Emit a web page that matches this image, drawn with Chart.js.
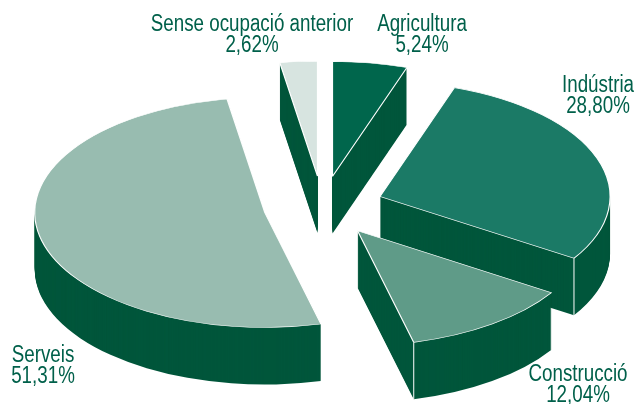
<!DOCTYPE html>
<html lang="ca">
<head>
<meta charset="utf-8">
<title>Sectors</title>
<script src="https://cdn.jsdelivr.net/npm/chart.js@4"></script>
<style>
  html, body { margin: 0; padding: 0; background: #fff; }
  #caixa { width: 638px; height: 404px; }
</style>
</head>
<body>
<div id="caixa"><canvas id="grafic"></canvas></div>
<script>
// Dades
const categories = ['Agricultura', 'Indústria', 'Construcció', 'Serveis', 'Sense ocupació anterior'];
const percentatges = [5.24, 28.80, 12.04, 51.31, 2.62];
const colors = ['#00664c', '#1b7a66', '#5f9b88', '#98bcb0', '#d7e4e0'];

// Aspecte del pastís 3D
const colorLateral = '#00563b';
const centreX = 322.5;
const centreY = 206.5;
const aixafat = 0.5;     // proporció vertical de l'el·lipse
const separacio = [61, 61, 60, 59, 61];    // distància de cada porció al centre
const gruix = 57;

// On va cada etiqueta: [x, y de la primera línia]
const posEtiquetes = [[422, 31], [598, 92], [578, 381], [43, 362], [252, 31]];
const fontEtiquetes = '23px "Liberation Sans", sans-serif';
const estretText = 0.816; // la lletra original és condensada

const formatarPct = (valor) => valor.toFixed(2).replace('.', ',') + '%';

// Col·loca el context de manera que la porció quedi aixafada i separada
function aplicarTransform(ctx, arc, sep, dy) {
    const mig = (arc.startAngle + arc.endAngle) / 2;
    ctx.translate(centreX, centreY + dy);
    ctx.scale(1, aixafat);
    ctx.translate(Math.cos(mig) * sep, Math.sin(mig) * sep);
    ctx.translate(-arc.x, -arc.y);
}

const pastis3d = {
    id: 'pastis3d',
    beforeDatasetsDraw(chart) {
        const ctx = chart.ctx;
        const arcs = chart.getDatasetMeta(0).data.map((arc, i) => ({ arc, sep: separacio[i] }));

        // de darrere cap endavant
        const ordre = (p) => Math.sin((p.arc.startAngle + p.arc.endAngle) / 2);
        arcs.sort((a, b) => ordre(a) - ordre(b));

        arcs.forEach(({ arc, sep }) => {
            const original = arc.options;

            // cos lateral: la mateixa porció repetida cap avall
            arc.options = Object.create(original, {
                backgroundColor: { value: colorLateral },
                borderWidth: { value: 0 }
            });
            for (let dy = gruix; dy > 0; dy--) {
                ctx.save();
                aplicarTransform(ctx, arc, sep, dy);
                arc.draw(ctx);
                ctx.restore();
            }
            arc.options = original;

            // aresta vertical on acaba la porció, si queda a la part de davant
            const mig = (arc.startAngle + arc.endAngle) / 2;
            const xFi = centreX + Math.cos(mig) * sep + Math.cos(arc.endAngle) * arc.outerRadius;
            const yFi = centreY + (Math.sin(mig) * sep + Math.sin(arc.endAngle) * arc.outerRadius) * aixafat;
            if (Math.sin(arc.endAngle) > 0.2 && Math.cos(arc.endAngle) > 0) {
                ctx.save();
                ctx.strokeStyle = '#fff';
                ctx.lineWidth = 1;
                ctx.beginPath();
                ctx.moveTo(xFi, yFi);
                ctx.lineTo(xFi, yFi + gruix);
                ctx.stroke();
                ctx.restore();
            }

            // cara de dalt
            ctx.save();
            aplicarTransform(ctx, arc, sep, 0);
            arc.draw(ctx);
            ctx.restore();
        });

        // Etiquetes
        ctx.save();
        ctx.font = fontEtiquetes;
        ctx.fillStyle = '#00604a';
        ctx.textAlign = 'center';
        categories.forEach((nom, i) => {
            const [x, y] = posEtiquetes[i];
            ctx.save();
            ctx.translate(x, 0);
            ctx.scale(estretText, 1);
            ctx.fillText(nom, 0, y);
            ctx.fillText(formatarPct(percentatges[i]), 0, y + 21);
            ctx.restore();
        });
        ctx.restore();

        return false; // ja està tot dibuixat
    }
};

new Chart(document.getElementById('grafic'), {
    type: 'pie',
    data: {
        labels: categories,
        datasets: [{
            data: percentatges,
            backgroundColor: colors,
            borderColor: '#fff',
            borderWidth: 1.2,
            radius: 230
        }]
    },
    options: {
        responsive: true,
        maintainAspectRatio: false,
        animation: false,
        plugins: {
            legend: { display: false },
            tooltip: { enabled: false }
        }
    },
    plugins: [pastis3d]
});
</script>
</body>
</html>
